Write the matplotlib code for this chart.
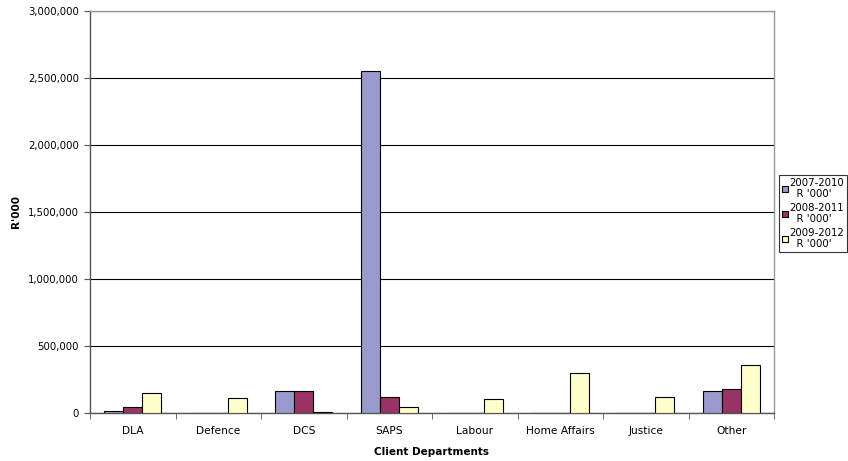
import matplotlib
matplotlib.use("Agg")
import matplotlib.pyplot as plt
import numpy as np
from matplotlib.ticker import FuncFormatter, FixedLocator

categories = ["DLA", "Defence", "DCS", "SAPS", "Labour", "Home Affairs", "Justice", "Other"]
series_names = ["2007-2010\n  R '000'", "2008-2011\n  R '000'", "2009-2012\n  R '000'"]
v2007 = [15000, 0, 164000, 2552000, 0, 0, 0, 166000]
v2008 = [42000, 0, 165000, 122000, 0, 0, 0, 179000]
v2009 = [147000, 110000, 10000, 43000, 107000, 296000, 122000, 356000]
colors = ["#9999CC", "#993366", "#FFFFCC"]

plt.rcParams['font.family'] = ['DejaVu Sans']
fig = plt.figure(figsize=(8.48, 4.61), dpi=100)
ax = fig.add_axes([90/848, 1 - 413/461, (774-90)/848, (413-11)/461])

x = np.arange(len(categories))
w = 0.222
for i, vals in enumerate([v2007, v2008, v2009]):
    ax.bar(x + (i - 1) * w, vals, w, color=colors[i], edgecolor="black",
           linewidth=0.8, label=series_names[i], zorder=3)

ax.set_xlim(-0.5, len(categories) - 0.5)
ax.set_ylim(0, 3000000)
ax.set_yticks(np.arange(0, 3000001, 500000))
ax.yaxis.set_major_formatter(FuncFormatter(lambda v, p: f"{int(v):,}"))
ax.grid(axis="y", color="black", linewidth=0.8, zorder=0)
ax.set_xticks(x)
ax.set_xticklabels(categories)
ax.xaxis.set_minor_locator(FixedLocator(np.arange(-0.5, len(categories), 1)))
ax.tick_params(axis="x", which="major", length=0, labelsize=7.7, pad=9)
ax.tick_params(axis="x", which="minor", length=4, direction="out", color="#555555")
ax.tick_params(axis="y", length=4, direction="out", labelsize=7.3, color="#555555", pad=4)

for s in ["left", "bottom"]:
    ax.spines[s].set_color("#555555")
    ax.spines[s].set_linewidth(1.0)
for s in ["top", "right"]:
    ax.spines[s].set_color("#999999")
    ax.spines[s].set_linewidth(1.0)

ax.set_xlabel("Client Departments", fontsize=7.5, fontweight="bold", labelpad=8)
ax.set_ylabel("R'000", fontsize=7.5, fontweight="bold", labelpad=5)

leg = ax.legend(loc="upper left", bbox_to_anchor=(779/848, 1 - 175/461),
                bbox_transform=fig.transFigure, fontsize=7.3, frameon=True,
                fancybox=False, edgecolor="black", handlelength=0.6,
                handleheight=0.6, handletextpad=0.2, borderpad=0.25,
                labelspacing=0.35, borderaxespad=0)
leg.get_frame().set_linewidth(0.8)

fig.savefig("out.png", dpi=100)
